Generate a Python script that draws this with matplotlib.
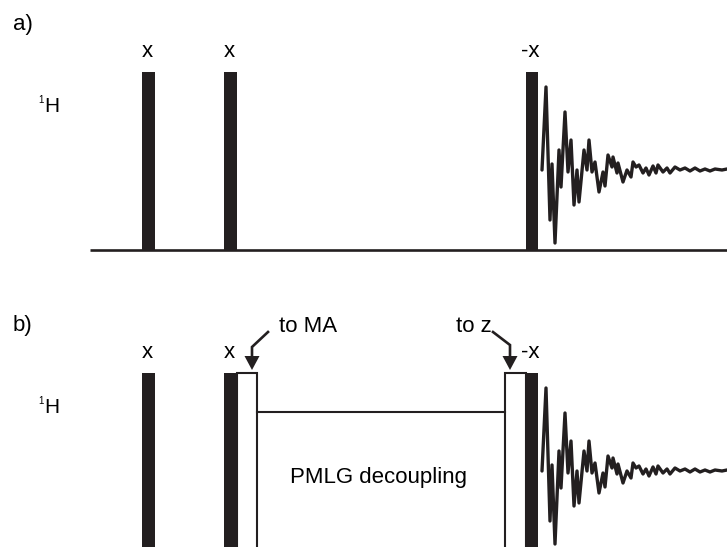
import matplotlib
matplotlib.use("Agg")
import matplotlib.pyplot as plt
from matplotlib.patches import Rectangle

INK = "#231f20"
plt.rcParams["font.family"] = ["Liberation Sans", "DejaVu Sans"]
FS = 16

# pulse timing along the time axis (pixel units)
pulse_start = [142, 224, 526]
pulse_width = [13, 13, 12]
pulse_phase = ["x", "x", "-x"]

# b) only: flip pulses around the PMLG block (start, width)
flip_start = [237, 505]
flip_width = [20, 21]
flip_label = ["to MA", "to z"]
pmlg_label = "PMLG decoupling"

# FID extrema: time after last pulse, amplitude (px)
fid_t = [4, 8, 12, 14, 17, 21, 23, 27, 30, 33, 36, 39, 41, 46, 49, 51, 54, 57,
         61, 65, 67, 70, 74, 75, 79, 80, 85, 89, 93, 95, 98, 101, 105, 108,
         111, 115, 118, 120, 125, 129, 132, 137, 142, 147, 152, 157, 162,
         167, 172, 177, 184, 189]
fid_amp = [-1, 82, -51, 5, -74, 19, -18, 57, -3, 29, -36, -1, -33, 19, -1, 29, -3, 7,
           -23, -3, -17, 14, 2, 12, -4, 6, -13, -1, -8, 7, 2, 4, -4, 1,
           -6, 3, -4, 4, -3, 1, -4, 2, -1, 1, -2, 1, -2,
           0, -2, 0, -1, 0]

fig = plt.figure(figsize=(7.27, 5.47), dpi=100)
ax = fig.add_axes([0, 0, 1, 1])
ax.set_xlim(0, 727)
ax.set_ylim(547, 0)
ax.axis("off")

TOP, BASE, FIDC = 72, 250, 169


def panel(dy, tag):
    ax.plot([90, 727], [BASE + dy, BASE + dy], color=INK, lw=1.9, solid_capstyle="butt")
    ax.text(13, 30 + dy, tag, fontsize=FS, ha="left", va="baseline")
    ax.text(38, 103 + dy, "1", fontsize=7, ha="left", va="baseline")
    ax.text(44, 112 + dy, "H", fontsize=15, ha="left", va="baseline")
    for s, w, ph in zip(pulse_start, pulse_width, pulse_phase):
        ax.add_patch(Rectangle((s, TOP + dy), w, BASE - TOP, facecolor=INK,
                               edgecolor="none", zorder=3))
        ax.text(s + w / 2 - (1 if ph == "x" else 2), 57 + dy, ph, fontsize=FS,
                ha="center", va="baseline")
    t0 = pulse_start[-1] + pulse_width[-1]
    ax.plot([t0 + t for t in fid_t], [FIDC + dy - a for a in fid_amp],
            color=INK, lw=2.4, solid_joinstyle="round", solid_capstyle="round", zorder=4)


panel(0, "a)")

dy = 301
panel(dy, "b)")
for s, w in zip(flip_start, flip_width):
    ax.add_patch(Rectangle((s, TOP + dy), w, BASE - TOP, facecolor="white",
                           edgecolor=INK, lw=1.5, zorder=2))
ax.plot([flip_start[0] + flip_width[0], flip_start[1]], [412, 412],
        color=INK, lw=1.5, zorder=2)
ax.text(379, 483, pmlg_label, fontsize=FS, ha="center", va="baseline")

# arrows
arrows = [((268, 332), (252, 347)), ((493, 332), (510, 345))]
for (x0, y0), (x1, y1) in arrows:
    ax.plot([x0, x1, x1], [y0, y1, 358], color=INK, lw=1.9, solid_joinstyle="miter")
    ax.fill([x1 - 7.5, x1 + 7.5, x1], [356, 356, 370], color=INK, lw=0)
ax.text(279, 332, flip_label[0], fontsize=FS, ha="left", va="baseline")
ax.text(492, 332, flip_label[1], fontsize=FS, ha="right", va="baseline")

fig.savefig("out.png", dpi=100, facecolor="white")
